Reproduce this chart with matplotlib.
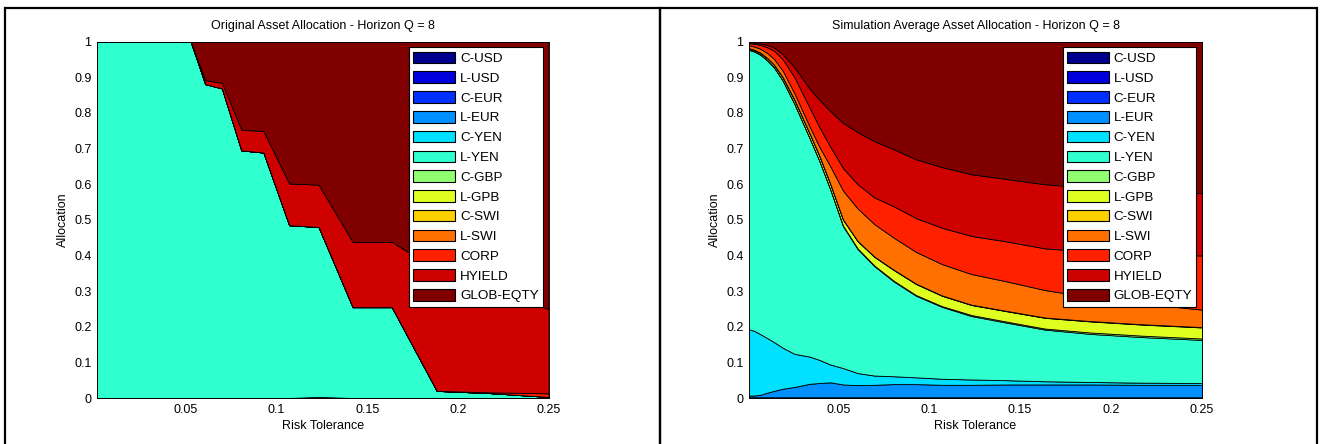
import matplotlib
matplotlib.use("Agg")
import matplotlib.pyplot as plt
from matplotlib.patches import Rectangle

plt.rcParams['font.family'] = ['Liberation Sans', 'DejaVu Sans']

# risk tolerance grid
risk = [0.001, 0.0041, 0.0073, 0.0111, 0.0147, 0.0196, 0.026, 0.0345, 0.0397, 0.0457, 0.0527,
        0.0607, 0.0699, 0.0806, 0.0928, 0.107, 0.1232, 0.142, 0.1636, 0.1884, 0.2171, 0.25]

assets = ['C-USD', 'L-USD', 'C-EUR', 'L-EUR', 'C-YEN', 'L-YEN', 'C-GBP', 'L-GPB',
          'C-SWI', 'L-SWI', 'CORP', 'HYIELD', 'GLOB-EQTY']
colors = ['#00008f', '#0000df', '#0030ff', '#0090ff', '#00e0ff', '#30ffd0', '#90ff70',
          '#dfff20', '#ffd000', '#ff7000', '#ff2000', '#cf0000', '#800000']

xticks = [0.05, 0.1, 0.15, 0.2, 0.25]
xtick_labels = ['0.05', '0.1', '0.15', '0.2', '0.25']
yticks = [0, 0.1, 0.2, 0.3, 0.4, 0.5, 0.6, 0.7, 0.8, 0.9, 1]
ytick_labels = ['0', '0.1', '0.2', '0.3', '0.4', '0.5', '0.6', '0.7', '0.8', '0.9', '1']

# original allocation
orig_zero = [0, 0, 0, 0, 0, 0, 0, 0, 0, 0, 0, 0, 0, 0, 0, 0, 0, 0, 0, 0, 0, 0]
orig_cusd = [0, 0, 0, 0, 0, 0, 0, 0, 0, 0, 0, 0, 0, 0, 0, 0, 0.003, 0, 0, 0, 0, 0]
orig_lyen = [1, 1, 1, 1, 1, 1, 1, 1, 1, 1, 1, 0.881, 0.869, 0.695, 0.689, 0.485, 0.477,
             0.255, 0.255, 0.020, 0.014, 0.003]
orig_corp = [0, 0, 0, 0, 0, 0, 0, 0, 0, 0, 0, 0, 0, 0, 0, 0, 0, 0, 0, 0, 0.002, 0.010]
orig_hyield = [0, 0, 0, 0, 0, 0, 0, 0, 0, 0, 0, 0.011, 0.016, 0.058, 0.060, 0.117, 0.119,
               0.183, 0.183, 0.340, 0.284, 0.237]
orig_glob = [0, 0, 0, 0, 0, 0, 0, 0, 0, 0, 0, 0.108, 0.115, 0.247, 0.251, 0.398, 0.401,
             0.562, 0.562, 0.640, 0.700, 0.750]

# simulation average allocation
sim_cusd = [0.001, 0.001, 0.001, 0.001, 0.001, 0.001, 0.001, 0.001, 0.001, 0.001, 0.001,
            0.001, 0.001, 0.001, 0.001, 0.001, 0.001, 0.001, 0.001, 0.001, 0.001, 0.001]
sim_lusd = [0, 0, 0, 0, 0, 0, 0, 0, 0, 0, 0, 0, 0, 0, 0, 0, 0, 0, 0, 0, 0, 0]
sim_ceur = [0.001, 0.001, 0.001, 0.001, 0.001, 0.001, 0.001, 0.001, 0.001, 0.001, 0.001,
            0.001, 0.001, 0.001, 0.001, 0.001, 0.001, 0.001, 0.001, 0.001, 0.001, 0.001]
sim_leur = [0.005, 0.005, 0.007, 0.013, 0.018, 0.024, 0.029, 0.038, 0.040, 0.042, 0.036,
            0.034, 0.035, 0.037, 0.037, 0.035, 0.035, 0.036, 0.036, 0.036, 0.035, 0.035]
sim_cyen = [0.186, 0.181, 0.170, 0.153, 0.137, 0.115, 0.093, 0.076, 0.065, 0.050, 0.046,
            0.034, 0.026, 0.022, 0.019, 0.017, 0.015, 0.012, 0.009, 0.007, 0.006, 0.005]
sim_lyen = [0.784, 0.784, 0.784, 0.779, 0.771, 0.749, 0.701, 0.611, 0.558, 0.491, 0.398,
            0.348, 0.307, 0.266, 0.229, 0.202, 0.178, 0.162, 0.145, 0.135, 0.128, 0.121]
sim_cgbp = [0.001, 0.001, 0.001, 0.001, 0.001, 0.001, 0.001, 0.001, 0.001, 0.001, 0.002,
            0.002, 0.002, 0.002, 0.002, 0.002, 0.003, 0.003, 0.003, 0.004, 0.004, 0.004]
sim_lgpb = [0.003, 0.003, 0.004, 0.005, 0.006, 0.008, 0.010, 0.012, 0.013, 0.014, 0.016,
            0.020, 0.024, 0.030, 0.031, 0.029, 0.028, 0.029, 0.030, 0.031, 0.031, 0.031]
sim_cswi = [0.001, 0.001, 0.001, 0.001, 0.001, 0.001, 0.001, 0.001, 0.001, 0.001, 0.001,
            0.001, 0.001, 0.001, 0.001, 0.001, 0.001, 0.001, 0.001, 0.001, 0.001, 0.001]
sim_lswi = [0.008, 0.009, 0.011, 0.014, 0.016, 0.018, 0.018, 0.019, 0.025, 0.049, 0.081,
            0.091, 0.091, 0.090, 0.089, 0.088, 0.086, 0.083, 0.077, 0.067, 0.058, 0.049]
sim_corp = [0.006, 0.008, 0.011, 0.016, 0.023, 0.032, 0.045, 0.053, 0.055, 0.055, 0.063,
            0.068, 0.075, 0.088, 0.095, 0.102, 0.107, 0.112, 0.117, 0.128, 0.140, 0.152]
sim_hyield = [0.003, 0.003, 0.004, 0.007, 0.009, 0.015, 0.028, 0.054, 0.077, 0.100, 0.127,
              0.146, 0.158, 0.160, 0.165, 0.170, 0.173, 0.175, 0.180, 0.179, 0.178, 0.175]
sim_glob = [0.001, 0.003, 0.005, 0.009, 0.016, 0.035, 0.072, 0.133, 0.163, 0.195, 0.228,
            0.254, 0.279, 0.302, 0.330, 0.352, 0.372, 0.385, 0.400, 0.410, 0.417, 0.425]

orig_series = [orig_cusd, orig_zero, orig_zero, orig_zero, orig_zero, orig_lyen, orig_zero,
               orig_zero, orig_zero, orig_zero, orig_corp, orig_hyield, orig_glob]
sim_series = [sim_cusd, sim_lusd, sim_ceur, sim_leur, sim_cyen, sim_lyen, sim_cgbp,
              sim_lgpb, sim_cswi, sim_lswi, sim_corp, sim_hyield, sim_glob]

fig = plt.figure(figsize=(13.22, 4.44), dpi=100)

# framing boxes around each panel
fig.add_artist(Rectangle((5 / 1322, -0.05), 655 / 1322, 1.05 - 8 / 444, fill=False,
                         lw=1.6, ec='black', transform=fig.transFigure))
fig.add_artist(Rectangle((660 / 1322, -0.05), 657 / 1322, 1.05 - 8 / 444, fill=False,
                         lw=1.6, ec='black', transform=fig.transFigure))


def draw_panel(rect, series, title):
    ax = fig.add_axes(rect)
    ax.stackplot(risk, *series, colors=colors, labels=assets,
                 edgecolor='black', linewidth=0.6)
    ax.set_xlim(0.001, 0.25)
    ax.set_ylim(0, 1)
    ax.set_xticks(xticks)
    ax.set_xticklabels(xtick_labels)
    ax.set_yticks(yticks)
    ax.set_yticklabels(ytick_labels)
    ax.set_axisbelow(True)
    ax.tick_params(direction='in', length=3, width=0.5, labelsize=9, pad=4)
    for sp in ax.spines.values():
        sp.set_linewidth(0.6)
    ax.set_title(title, fontsize=9, pad=9)
    ax.set_xlabel('Risk Tolerance', fontsize=9, labelpad=3)
    ax.set_ylabel('Allocation', fontsize=9, labelpad=4)
    leg = ax.legend(loc='upper right', fontsize=9.7, frameon=True, fancybox=False,
                    framealpha=1, edgecolor='black', borderaxespad=0.42,
                    borderpad=0.32, handlelength=3.1, handleheight=0.95,
                    handletextpad=0.35, labelspacing=0.47)
    leg.get_frame().set_linewidth(0.8)
    for h in leg.legend_handles:
        h.set_edgecolor('black')
        h.set_linewidth(0.8)
    return ax


draw_panel([97 / 1322, 46 / 444, 451.5 / 1322, 356.3 / 444], orig_series,
           'Original Asset Allocation - Horizon Q = 8')
draw_panel([749 / 1322, 46 / 444, 453 / 1322, 356.3 / 444], sim_series,
           'Simulation Average Asset Allocation - Horizon Q = 8')

fig.savefig('out.png', dpi=100)
